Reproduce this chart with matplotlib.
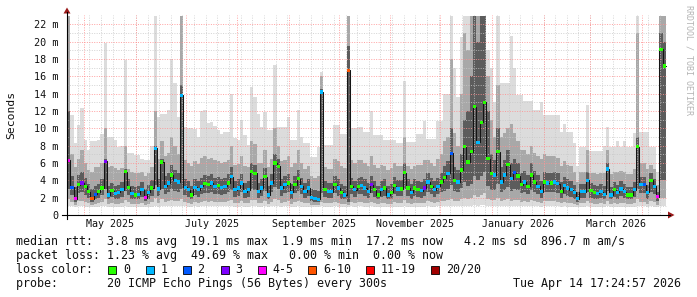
import datetime as dt
import numpy as np
import matplotlib
matplotlib.use("Agg")
import matplotlib.pyplot as plt
from matplotlib.patches import Polygon, Rectangle
from matplotlib.lines import Line2D

plt.rcParams["font.family"] = ["DejaVu Sans Mono"]

W, H = 697, 297
start = dt.datetime(2025, 4, 20, 14, 24)
span_days = 360.6
col_days = 2.0

# ---- data (ms), one value per 2-day column ----
med = [6.3, 3.2, 1.9, 3.5, 3.7, 3.3, 2.7, 1.9, 2.4, 2.7, 3.1, 6.2, 2.3, 2.8, 2.5, 2.6, 2.9, 5.0, 3.2, 2.5,
       2.3, 2.4, 2.9, 2.0, 2.6, 3.1, 7.7, 3.0, 6.1, 3.3, 3.7, 4.6, 4.0, 3.8, 13.8, 3.2, 2.9, 2.3, 3.2, 2.9,
       3.3, 3.6, 3.5, 3.7, 3.3, 3.4, 3.2, 3.3, 3.7, 4.4, 2.9, 3.1, 3.7, 2.7, 2.9, 5.0, 4.8, 2.7, 3.1, 4.4,
       2.3, 3.7, 6.0, 5.6, 3.1, 3.5, 3.7, 2.6, 3.5, 4.2, 3.3, 2.7, 3.1, 2.0, 1.9, 1.8, 14.2, 2.9, 2.7, 2.7,
       3.5, 3.1, 2.6, 2.3, 16.7, 3.3, 2.9, 3.3, 3.4, 3.1, 2.7, 3.5, 2.9, 2.3, 2.9, 3.1, 2.3, 2.6, 3.4, 3.0,
       3.0, 4.9, 3.1, 2.6, 3.1, 2.9, 2.8, 3.1, 3.8, 3.3, 2.9, 3.3, 3.8, 4.3, 4.8, 7.1, 4.0, 3.8, 5.2, 7.9,
       6.1, 7.3, 12.5, 8.4, 10.7, 13.0, 6.5, 4.8, 4.6, 7.3, 3.8, 4.6, 5.8, 4.2, 4.9, 4.5, 3.5, 3.8, 3.3, 4.6,
       3.8, 3.3, 2.7, 3.8, 3.7, 3.7, 3.8, 3.6, 2.7, 3.4, 3.1, 2.9, 2.6, 1.9, 2.7, 2.7, 4.0, 2.8, 2.6, 2.5,
       2.7, 2.4, 5.3, 2.3, 2.9, 2.6, 3.0, 2.7, 2.3, 2.3, 2.9, 7.9, 3.5, 3.5, 2.6, 4.0, 3.3, 2.1, 19.1, 17.2]

loss_cat = [4, 2, 4, 0, 3, 0, 0, 5, 2, 0, 0, 3, 1, 0, 1, 1, 1, 0, 0, 1,
            0, 1, 1, 4, 1, 0, 1, 1, 0, 1, 1, 0, 1, 1, 1, 1, 1, 0, 1, 1,
            1, 0, 0, 1, 1, 0, 1, 1, 0, 1, 1, 1, 1, 1, 1, 0, 0, 1, 1, 0,
            1, 1, 0, 0, 1, 1, 0, 1, 0, 0, 1, 1, 1, 1, 1, 1, 1, 0, 1, 1,
            0, 1, 0, 1, 5, 0, 1, 0, 1, 1, 1, 3, 0, 0, 1, 0, 1, 0, 0, 1,
            0, 0, 0, 1, 0, 0, 1, 3, 1, 0, 1, 1, 0, 0, 1, 2, 0, 1, 0, 0,
            0, 0, 0, 1, 0, 0, 0, 0, 1, 0, 1, 1, 0, 1, 2, 0, 0, 1, 0, 0,
            0, 1, 1, 0, 1, 0, 1, 1, 0, 1, 1, 1, 1, 1, 1, 1, 1, 0, 0, 1,
            1, 1, 1, 1, 0, 1, 1, 1, 0, 0, 1, 0, 1, 2, 1, 0, 1, 4, 0, 0]

ping_max = [23, 11.5, 8.3, 10.4, 12.3, 8.6, 7.5, 8.5, 8.5, 8.6, 9.4, 19.8, 9.0, 9.0, 8.6, 7.9, 8.0, 17.9, 7.1, 7.1,
            6.9, 6.9, 6.5, 6.3, 6.3, 8.0, 23, 11.3, 11.7, 11.7, 12.1, 18.0, 15.2, 11.3, 23, 10.2, 10.0, 10.0, 9.9, 9.0,
            12.0, 12.1, 10.6, 10.7, 10.3, 9.8, 9.4, 9.6, 9.6, 14.0, 8.9, 8.6, 11.0, 9.2, 8.1, 14.8, 13.6, 11.7, 10.2, 11.9,
            9.8, 9.8, 17.3, 10.2, 10.2, 10.2, 11.3, 8.6, 8.6, 12.1, 9.0, 8.3, 8.3, 6.7, 6.7, 7.9, 16.5, 8.1, 8.1, 8.1,
            10.4, 10.4, 9.4, 9.4, 23, 10.0, 10.0, 10.2, 10.2, 9.6, 9.6, 12.0, 9.2, 9.2, 9.2, 8.6, 8.6, 8.6, 8.6, 8.3,
            8.3, 15.5, 8.4, 8.4, 8.4, 9.4, 9.4, 10.9, 8.8, 8.8, 8.8, 10.9, 10.9, 14.0, 14.0, 23, 17.0, 13.6, 20.5, 23,
            23, 23, 23, 23, 23, 23, 19.0, 17.0, 13.0, 23, 15.2, 15.2, 15.2, 20.7, 17.0, 13.8, 13.8, 13.2, 13.2, 13.2,
            12.1, 12.1, 13.0, 11.5, 11.5, 11.5, 11.5, 11.5, 9.6, 10.5, 9.6, 9.6, 8.3, 5.7, 7.9, 7.9, 12.7, 7.4, 7.4, 7.4,
            7.4, 8.0, 10.2, 7.9, 7.9, 8.5, 7.9, 8.5, 7.9, 7.9, 9.5, 23, 9.6, 9.6, 9.6, 7.9, 7.9, 5.0, 23, 23]

p90 = [23, 7.0, 5.5, 6.5, 7.5, 6.0, 5.2, 5.0, 5.5, 5.5, 6.0, 10.0, 5.5, 5.6, 5.4, 5.2, 5.4, 8.0, 5.3, 5.0,
       4.8, 4.8, 5.0, 4.5, 4.8, 5.5, 12.0, 6.5, 8.5, 6.8, 7.2, 9.0, 8.0, 7.0, 23, 6.3, 6.0, 5.6, 6.2, 5.9,
       6.6, 6.8, 6.5, 6.6, 6.3, 6.2, 6.0, 6.1, 6.4, 8.0, 5.8, 5.9, 6.8, 5.6, 5.5, 8.5, 8.2, 6.0, 6.0, 7.5,
       5.5, 6.5, 10.0, 8.0, 6.2, 6.4, 6.8, 5.5, 6.0, 7.5, 6.0, 5.3, 5.6, 4.5, 4.3, 4.5, 16.0, 5.5, 5.3, 5.3,
       6.5, 6.2, 5.6, 5.4, 23, 6.3, 6.0, 6.3, 6.3, 6.0, 5.7, 6.8, 5.8, 5.4, 5.8, 5.7, 5.2, 5.4, 6.0, 5.6,
       5.6, 9.0, 5.7, 5.3, 5.7, 5.8, 5.8, 6.3, 6.3, 6.0, 5.7, 6.5, 7.0, 8.5, 9.0, 18.0, 9.5, 8.0, 14.0, 21.0,
       19.0, 23, 23, 23, 23, 23, 16.0, 11.0, 9.0, 15.0, 9.0, 9.5, 10.0, 10.5, 9.5, 8.5, 7.5, 7.5, 7.0, 8.0,
       7.2, 6.8, 6.5, 7.0, 6.8, 6.8, 6.8, 6.6, 5.6, 6.2, 5.8, 5.6, 5.0, 3.8, 5.0, 5.0, 7.5, 4.9, 4.8, 4.7,
       4.9, 4.8, 7.5, 4.7, 5.0, 5.0, 5.1, 5.0, 4.7, 4.7, 5.3, 21.0, 6.0, 6.0, 5.3, 5.8, 5.3, 3.5, 23, 23]

p75 = [12, 4.5, 3.2, 4.6, 5.0, 4.3, 3.6, 3.0, 3.4, 3.6, 4.2, 6.5, 3.3, 3.7, 3.4, 3.5, 3.8, 5.3, 4.1, 3.4,
       3.2, 3.3, 3.8, 3.0, 3.5, 4.0, 8.0, 4.2, 6.5, 4.5, 4.9, 5.8, 5.2, 4.9, 15.0, 4.2, 3.9, 3.3, 4.2, 3.9,
       4.3, 4.6, 4.5, 4.7, 4.3, 4.4, 4.2, 4.3, 4.7, 5.5, 3.9, 4.1, 4.7, 3.7, 3.9, 6.0, 5.8, 3.7, 4.1, 5.4,
       3.3, 4.7, 7.0, 6.5, 4.1, 4.5, 4.7, 3.6, 4.5, 5.2, 4.3, 3.7, 4.1, 3.0, 2.9, 2.8, 14.5, 3.9, 3.7, 3.7,
       4.5, 4.1, 3.6, 3.3, 19.5, 4.3, 3.9, 4.3, 4.4, 4.1, 3.7, 4.5, 3.9, 3.3, 3.9, 4.1, 3.3, 3.6, 4.4, 4.0,
       4.0, 6.0, 4.1, 3.6, 4.1, 3.9, 3.8, 4.1, 4.8, 4.3, 3.9, 4.3, 4.9, 5.6, 6.2, 10.0, 5.5, 5.2, 7.0, 11.0,
       12.0, 16.0, 23, 20.0, 23, 23, 12.0, 7.0, 6.3, 10.0, 5.5, 6.3, 7.5, 6.0, 6.5, 6.0, 4.9, 5.1, 4.6, 6.0,
       5.1, 4.6, 3.9, 5.0, 4.9, 4.9, 5.0, 4.8, 3.8, 4.4, 4.1, 3.9, 3.5, 2.6, 3.6, 3.6, 5.0, 3.7, 3.5, 3.4,
       3.6, 3.3, 6.0, 3.2, 3.8, 3.5, 3.9, 3.6, 3.2, 3.2, 3.8, 9.0, 4.4, 4.4, 3.5, 4.8, 4.2, 2.7, 21.0, 20.0]

p25 = [3.0, 2.3, 1.5, 2.5, 2.6, 2.3, 2.0, 1.5, 1.8, 2.0, 2.3, 3.0, 1.8, 2.1, 1.9, 1.9, 2.1, 2.8, 2.3, 1.9,
       1.8, 1.8, 2.1, 1.6, 1.9, 2.2, 3.5, 2.2, 3.0, 2.4, 2.6, 3.0, 2.8, 2.7, 3.0, 2.3, 2.1, 1.8, 2.3, 2.1,
       2.4, 2.5, 2.5, 2.6, 2.4, 2.4, 2.3, 2.4, 2.6, 2.9, 2.1, 2.2, 2.6, 2.0, 2.1, 3.0, 2.9, 2.0, 2.2, 2.8,
       1.8, 2.6, 3.2, 3.0, 2.2, 2.5, 2.6, 1.9, 2.5, 2.8, 2.4, 2.0, 2.2, 1.6, 1.5, 1.5, 2.5, 2.1, 2.0, 2.0,
       2.5, 2.2, 1.9, 1.8, 1.5, 2.4, 2.1, 2.4, 2.4, 2.2, 2.0, 2.5, 2.1, 1.8, 2.1, 2.2, 1.8, 1.9, 2.4, 2.2,
       2.2, 3.0, 2.2, 1.9, 2.2, 2.1, 2.0, 2.2, 2.6, 2.4, 2.1, 2.4, 2.6, 2.8, 3.0, 3.5, 2.8, 2.7, 3.1, 3.8,
       3.3, 3.6, 4.5, 4.0, 4.5, 5.0, 3.4, 2.9, 2.9, 3.6, 2.6, 2.9, 3.2, 2.8, 3.0, 2.9, 2.5, 2.6, 2.4, 2.9,
       2.6, 2.4, 2.0, 2.6, 2.6, 2.6, 2.6, 2.5, 2.0, 2.4, 2.2, 2.1, 1.9, 1.5, 2.0, 2.0, 2.6, 2.0, 1.9, 1.8,
       2.0, 1.8, 2.8, 1.8, 2.1, 1.9, 2.2, 2.0, 1.8, 1.8, 2.1, 3.0, 2.5, 2.5, 1.9, 2.6, 2.4, 1.6, 4.0, 4.0]

p10 = [1.8, 1.5, 1.2, 1.6, 1.6, 1.5, 1.4, 1.2, 1.3, 1.4, 1.5, 1.8, 1.3, 1.4, 1.3, 1.3, 1.4, 1.7, 1.5, 1.3,
       1.3, 1.3, 1.4, 1.2, 1.3, 1.5, 2.0, 1.4, 1.8, 1.5, 1.6, 1.7, 1.6, 1.6, 1.8, 1.5, 1.4, 1.3, 1.5, 1.4,
       1.5, 1.6, 1.5, 1.6, 1.5, 1.5, 1.5, 1.5, 1.6, 1.7, 1.4, 1.4, 1.6, 1.4, 1.4, 1.7, 1.7, 1.4, 1.4, 1.6,
       1.3, 1.5, 1.8, 1.7, 1.4, 1.5, 1.6, 1.3, 1.5, 1.6, 1.5, 1.4, 1.4, 1.2, 1.2, 1.1, 1.5, 1.4, 1.4, 1.4,
       1.5, 1.4, 1.3, 1.3, 1.2, 1.5, 1.4, 1.5, 1.5, 1.4, 1.4, 1.5, 1.4, 1.3, 1.4, 1.4, 1.3, 1.3, 1.5, 1.4,
       1.4, 1.7, 1.4, 1.3, 1.4, 1.4, 1.4, 1.4, 1.6, 1.5, 1.4, 1.5, 1.6, 1.6, 1.7, 1.9, 1.6, 1.6, 1.8, 2.0,
       1.9, 2.0, 2.3, 2.1, 2.3, 2.5, 1.9, 1.7, 1.7, 2.0, 1.6, 1.7, 1.8, 1.6, 1.7, 1.7, 1.5, 1.6, 1.5, 1.7,
       1.6, 1.5, 1.4, 1.6, 1.6, 1.6, 1.6, 1.5, 1.4, 1.5, 1.4, 1.4, 1.3, 1.2, 1.4, 1.4, 1.6, 1.4, 1.3, 1.3,
       1.4, 1.3, 1.6, 1.3, 1.4, 1.3, 1.4, 1.4, 1.3, 1.3, 1.4, 1.8, 1.5, 1.5, 1.3, 1.6, 1.5, 1.2, 2.0, 2.0]

ping_min = [1.0, 1.0, 0.9, 1.0, 1.0, 0.9, 0.9, 0.9, 0.9, 0.9, 1.0, 1.0, 0.9, 0.9, 0.9, 0.9, 0.9, 1.0, 0.9, 0.9,
            0.9, 0.9, 0.9, 0.9, 0.9, 0.9, 1.0, 0.9, 1.0, 1.0, 1.0, 1.0, 1.0, 1.0, 1.0, 1.0, 0.9, 0.9, 1.0, 0.9,
            1.0, 1.0, 1.0, 1.0, 1.0, 1.0, 1.0, 1.0, 1.0, 1.0, 0.9, 0.9, 1.0, 0.9, 0.9, 1.0, 1.0, 0.9, 0.9, 1.0,
            0.9, 1.0, 1.0, 1.0, 0.9, 1.0, 1.0, 0.9, 0.9, 1.0, 0.9, 0.9, 0.9, 0.9, 0.9, 0.9, 1.0, 0.9, 0.9, 0.9,
            1.0, 0.9, 0.9, 0.9, 0.9, 1.0, 0.9, 1.0, 1.0, 0.9, 0.9, 1.0, 0.9, 0.9, 0.9, 0.9, 0.9, 0.9, 0.9, 0.9,
            0.9, 1.0, 0.9, 0.9, 0.9, 0.9, 0.9, 0.9, 1.0, 0.9, 0.9, 1.0, 1.0, 1.0, 1.0, 1.0, 1.0, 1.0, 1.0, 1.0,
            1.0, 1.0, 1.1, 1.0, 1.1, 1.1, 1.0, 1.0, 1.0, 1.0, 1.0, 1.0, 1.0, 1.0, 1.0, 1.0, 1.0, 1.0, 1.0, 1.0,
            1.0, 1.0, 0.9, 1.0, 1.0, 1.0, 1.0, 1.0, 0.9, 1.0, 0.9, 0.9, 0.9, 0.9, 0.9, 0.9, 1.0, 0.9, 0.9, 0.9,
            0.9, 0.9, 1.0, 0.9, 0.9, 0.9, 0.9, 0.9, 0.9, 0.9, 0.9, 1.0, 1.0, 1.0, 0.9, 1.0, 0.9, 0.9, 1.0, 1.0]

loss_labels = ["0", "1", "2", "3", "4-5", "6-10", "11-19", "20/20"]
loss_colors = ["#26ff00", "#00b8ff", "#0059ff", "#7e00ff", "#ff00ff", "#ff5500", "#ff0000", "#a10000"]

x_month_labels = ["May 2025", "July 2025", "September 2025", "November 2025", "January 2026", "March 2026"]
y_tick_values = [0, 2, 4, 6, 8, 10, 12, 14, 16, 18, 20, 22]

legend_line1 = "median rtt:  3.8 ms avg  19.1 ms max  1.9 ms min  17.2 ms now   4.2 ms sd  896.7 m am/s"
legend_line2 = "packet loss: 1.23 % avg  49.69 % max   0.00 % min  0.00 % now"
probe_line = "probe:       20 ICMP Echo Pings (56 Bytes) every 300s"
stamp_text = "Tue Apr 14 17:24:57 2026"


def dnum(d):
    return (d - start).total_seconds() / 86400.0


fig = plt.figure(figsize=(W / 100, H / 100), dpi=100)
fig.patch.set_facecolor("white")
ax = fig.add_axes([67 / W, 1 - 215 / H, 600 / W, 200 / H])
ax.set_facecolor("white")
ax.set_xlim(0, span_days)
ax.set_ylim(0, 23.07)
for s in ax.spines.values():
    s.set_visible(False)

n = len(med)
xl = np.arange(n) * col_days
xe = np.append(xl, xl[-1] + col_days)


def ext(a):
    a = np.asarray(a, float)
    return np.append(a, a[-1])


ax.fill_between(xe, ext(ping_min), ext(ping_max), step="post", color="#dcdcdc", lw=0, zorder=1)
ax.fill_between(xe, ext(p10), ext(p90), step="post", color="#a8a8a8", lw=0, zorder=1.1)
ax.fill_between(xe, ext(p25), ext(p75), step="post", color="#5c5c5c", lw=0, zorder=1.2)

# grid
sundays = []
d = dt.datetime(2025, 4, 27)
end = start + dt.timedelta(days=span_days)
while d < end:
    sundays.append(dnum(d))
    d += dt.timedelta(days=7)
months = []
for y, m in [(2025, mm) for mm in range(5, 13)] + [(2026, mm) for mm in range(1, 5)]:
    months.append(dnum(dt.datetime(y, m, 1)))
dots = (0, (1, 1.5))
for v in sundays:
    ax.axvline(v, color="#c8c8c8", lw=0.7, ls=dots, alpha=0.8, zorder=2)
for yv in range(1, 23, 2):
    ax.axhline(yv, color="#c8c8c8", lw=0.7, ls=dots, alpha=0.8, zorder=2)
for v in months:
    ax.axvline(v, color="#ff9090", lw=0.7, ls=dots, alpha=0.85, zorder=2.1)
for yv in range(2, 23, 2):
    ax.axhline(yv, color="#ff9090", lw=0.7, ls=dots, alpha=0.85, zorder=2.1)

# median
ax.step(xe, ext(med), where="post", color="#141414", lw=0.75, zorder=3)
ax.scatter(xl + col_days / 2, med, marker="s", s=5.5, c=[loss_colors[c] for c in loss_cat],
           linewidths=0, zorder=4)

# ticks
ax.set_yticks(y_tick_values)
ax.set_yticklabels(["0" if v == 0 else f"{v} m" for v in y_tick_values])
label_dates = [dt.datetime(2025, 5, 16, 12), dt.datetime(2025, 7, 16, 12), dt.datetime(2025, 9, 16),
               dt.datetime(2025, 11, 16), dt.datetime(2026, 1, 16, 12), dt.datetime(2026, 3, 16, 12)]
ax.set_xticks([dnum(v) for v in label_dates])
ax.set_xticklabels(x_month_labels)
ax.tick_params(axis="y", length=0, pad=6, labelsize=7.3, labelcolor="#111111")
ax.tick_params(axis="x", length=0, pad=3, labelsize=7.2, labelcolor="#111111")


def px(xp, yp):
    return (xp / W, 1 - yp / H)


# axes lines + arrows
fig.add_artist(Line2D([62 / W, 670 / W], [1 - 215 / H, 1 - 215 / H], color="black", lw=0.8))
fig.add_artist(Line2D([67 / W, 67 / W], [1 - 219 / H, 1 - 12 / H], color="black", lw=0.8))
fig.add_artist(Polygon([px(63.5, 13.5), px(70.5, 13.5), px(67, 7.5)], closed=True,
                       transform=fig.transFigure, color="#9a1a1a", lw=0))
fig.add_artist(Polygon([px(668, 211.5), px(668, 218.5), px(674.5, 215)], closed=True,
                       transform=fig.transFigure, color="#9a1a1a", lw=0))

fig.text(11 / W, 1 - 115 / H, "Seconds", rotation=90, ha="center", va="center", fontsize=8.2,
         color="#111111")
fig.text(689 / W, 1 - 5 / H, "RRDTOOL / TOBI OETIKER", rotation=-90, ha="center", va="top",
         fontsize=6.0, color="#b4b4b4")

fs = 8.35
fig.text(16 / W, 1 - 241 / H, legend_line1, ha="left", va="center", fontsize=fs, color="#111111")
fig.text(16 / W, 1 - 256 / H, legend_line2, ha="left", va="center", fontsize=fs, color="#111111")
fig.text(16 / W, 1 - 269.5 / H, "loss color:", ha="left", va="center", fontsize=fs, color="#111111")
box_x = [108, 145.5, 182.5, 220.5, 257.5, 308, 366, 431]
for bx, lab, colr in zip(box_x, loss_labels, loss_colors):
    fig.add_artist(Rectangle(px(bx, 273.5), 8 / W, 8 / H, transform=fig.transFigure,
                             facecolor=colr, edgecolor="black", lw=0.6))
    fig.text((bx + 15) / W, 1 - 269.5 / H, lab, ha="left", va="center", fontsize=fs, color="#111111")
fig.text(16 / W, 1 - 284 / H, probe_line, ha="left", va="center", fontsize=fs, color="#111111")
fig.text(681 / W, 1 - 284 / H, stamp_text, ha="right", va="center", fontsize=fs, color="#111111")

fig.savefig("out.png", dpi=100, facecolor="white")
